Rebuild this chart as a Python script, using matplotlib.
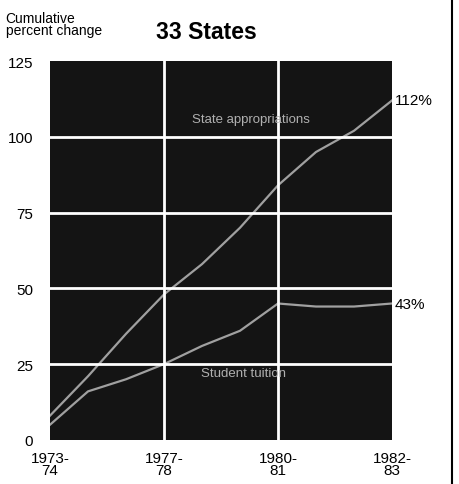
import numpy as np
import matplotlib.pyplot as plt
from matplotlib.lines import Line2D

plt.rcParams['font.family'] = ['Liberation Sans', 'DejaVu Sans']

# cumulative percent change, one value per school year 1973-74 .. 1982-83
years = ['1973-74', '1974-75', '1975-76', '1976-77', '1977-78',
         '1978-79', '1979-80', '1980-81', '1981-82', '1982-83']
upper = [8, 21, 35, 48, 58, 70, 84, 95, 102, 112]
lower = [5, 16, 20, 25, 31, 36, 45, 44, 44, 45]
tick_labels = ['1973-\n74', '1977-\n78', '1980-\n81', '1982-\n83']
tick_pos = [0, 3, 6, 9]

fig = plt.figure(figsize=(4.59, 4.85), dpi=100)
ax = fig.add_axes([0.109, 0.091, 0.745, 0.781])

x = np.arange(len(years))
ax.set_facecolor('#141414')
ax.plot(x, upper, color='#a0a0a0', lw=1.6)
ax.plot(x, lower, color='#a0a0a0', lw=1.6)

ax.set_xlim(0, 9)
ax.set_ylim(0, 125)
ax.set_yticks([0, 25, 50, 75, 100, 125])
ax.set_xticks(tick_pos)
ax.set_xticklabels(tick_labels, fontsize=11, linespacing=0.8)
ax.set_xticks(x, minor=True)
ax.tick_params(axis='both', which='both', length=0, labelsize=11)
ax.tick_params(axis='y', pad=12)
ax.tick_params(axis='x', pad=8)

for v in [25, 50, 75, 100]:
    ax.axhline(v, color='white', lw=2)
for v in [3, 6]:
    ax.axvline(v, color='white', lw=2)
for s in ax.spines.values():
    s.set_visible(False)

ax.text(5.3, 106, 'State appropriations', color='#b0b0b0', fontsize=9.5,
        ha='center', va='center')
ax.text(5.1, 22, 'Student tuition', color='#b0b0b0', fontsize=9.5,
        ha='center', va='center')

ax.text(9.08, upper[-1], '112%', fontsize=11, va='center', clip_on=False)
ax.text(9.08, lower[-1], '43%', fontsize=11, va='center', clip_on=False)

fig.text(0.012, 0.948, 'Cumulative\npercent change', fontsize=10,
         va='center', linespacing=0.85)
fig.text(0.45, 0.932, '33 States', fontsize=16.5, fontweight='bold',
         ha='center', va='center')

fig.add_artist(Line2D([0.985, 0.985], [0.0, 1.0], color='black', lw=1.5,
                      transform=fig.transFigure))

fig.savefig('out.png', dpi=100)
